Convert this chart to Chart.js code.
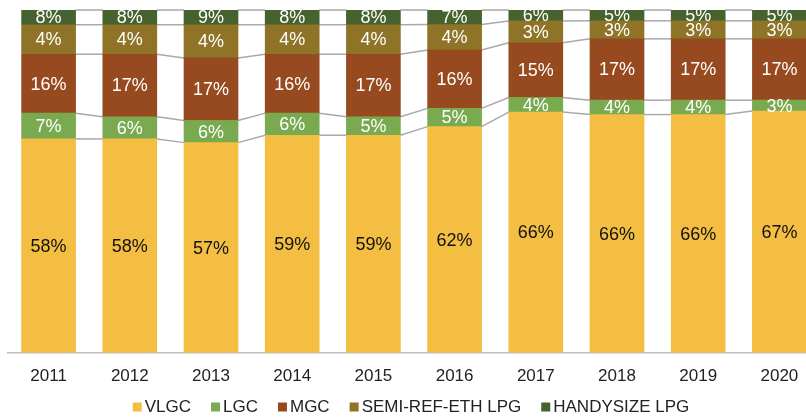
<!DOCTYPE html>
<html>
<head>
<meta charset="utf-8">
<script src="https://cdn.jsdelivr.net/npm/chart.js@4.4.1/dist/chart.umd.min.js"></script>
<style>
  html, body { margin: 0; padding: 0; background: #fff; overflow: hidden; }
  #chart { position: absolute; left: 0; top: 0; }
</style>
</head>
<body>
<canvas id="chart" width="830" height="418"></canvas>
<script>
const years = ['2011', '2012', '2013', '2014', '2015', '2016', '2017', '2018', '2019', '2020'];

// printed shares (%)
const vlgc = [58, 58, 57, 59, 59, 62, 66, 66, 66, 67];
const lgc = [7, 6, 6, 6, 5, 5, 4, 4, 4, 3];
const mgc = [16, 17, 17, 16, 17, 16, 15, 17, 17, 17];
const semiRef = [4, 4, 4, 4, 4, 4, 3, 3, 3, 3];
const handysize = [8, 8, 9, 8, 8, 7, 6, 5, 5, 5];

const totals = years.map((_, i) => vlgc[i] + lgc[i] + mgc[i] + semiRef[i] + handysize[i]);
const pct = arr => arr.map((v, i) => v / totals[i] * 100);

const font = "'Liberation Sans', Arial, sans-serif";

// in the source picture the two top segments are sized by each other's figure
const series = [
    { label: 'VLGC', size: vlgc, text: vlgc, color: '#f3be42', textColor: '#111' },
    { label: 'LGC', size: lgc, text: lgc, color: '#7aaa50', textColor: '#fff' },
    { label: 'MGC', size: mgc, text: mgc, color: '#974a1f', textColor: '#fff' },
    { label: 'SEMI-REF-ETH LPG', size: handysize, text: semiRef, color: '#8f7326', textColor: '#fff' },
    { label: 'HANDYSIZE LPG', size: semiRef, text: handysize, color: '#46632f', textColor: '#fff' }
];

// gray series lines joining the segment edges of neighbouring bars
const seriesLines = {
    id: 'seriesLines',
    beforeDatasetsDraw(chart) {
        const ctx = chart.ctx;
        ctx.save();
        ctx.strokeStyle = '#a9a9a9';
        ctx.lineWidth = 1.5;
        chart.data.datasets.forEach((ds, d) => {
            const bars = chart.getDatasetMeta(d).data;
            for (let i = 0; i < bars.length - 1; i++) {
                const a = bars[i], b = bars[i + 1];
                ctx.beginPath();
                ctx.moveTo(a.x + a.width / 2, a.y);
                ctx.lineTo(b.x - b.width / 2, b.y);
                ctx.stroke();
            }
        });
        ctx.restore();
    }
};

const segmentLabels = {
    id: 'segmentLabels',
    afterDatasetsDraw(chart) {
        const ctx = chart.ctx;
        ctx.save();
        ctx.font = '18px ' + font;
        ctx.textAlign = 'center';
        ctx.textBaseline = 'middle';
        chart.data.datasets.forEach((ds, d) => {
            const s = series[d];
            chart.getDatasetMeta(d).data.forEach((bar, i) => {
                ctx.fillStyle = s.textColor;
                ctx.fillText(s.text[i] + '%', bar.x, (bar.y + bar.base) / 2 + 1);
            });
        });
        ctx.restore();
    }
};

// legend row drawn by hand so its spacing matches the picture
const bottomLegend = {
    id: 'bottomLegend',
    afterDraw(chart) {
        const ctx = chart.ctx;
        ctx.save();
        ctx.font = '17px ' + font;
        ctx.textBaseline = 'middle';
        const box = 9, gap = 3, spacing = 20, y = 407;
        const widths = series.map(s => box + gap + ctx.measureText(s.label).width);
        const total = widths.reduce((a, b) => a + b, 0) + spacing * (series.length - 1);
        let x = 411 - total / 2;
        series.forEach((s, i) => {
            ctx.fillStyle = s.color;
            ctx.fillRect(x, y - box / 2, box, box);
            ctx.fillStyle = '#222';
            ctx.fillText(s.label, x + box + gap, y);
            x += widths[i] + spacing;
        });
        ctx.restore();
    }
};

new Chart(document.getElementById('chart'), {
    type: 'bar',
    data: {
        labels: years,
        datasets: series.map(s => ({
            label: s.label,
            data: pct(s.size),
            backgroundColor: s.color,
            borderWidth: 0,
            barThickness: 54
        }))
    },
    options: {
        responsive: false,
        animation: false,
        layout: { padding: { left: 8, right: 10, top: 10, bottom: 25 } },
        plugins: {
            tooltip: { enabled: false },
            legend: { display: false }
        },
        scales: {
            x: {
                stacked: true,
                grid: { display: false },
                border: { display: true, color: '#bfbfbf', width: 1.5 },
                ticks: { color: '#222', padding: 6, font: { family: font, size: 17 } }
            },
            y: {
                stacked: true,
                display: false,
                min: 0,
                max: 100
            }
        }
    },
    plugins: [seriesLines, segmentLabels, bottomLegend]
});
</script>
</body>
</html>
